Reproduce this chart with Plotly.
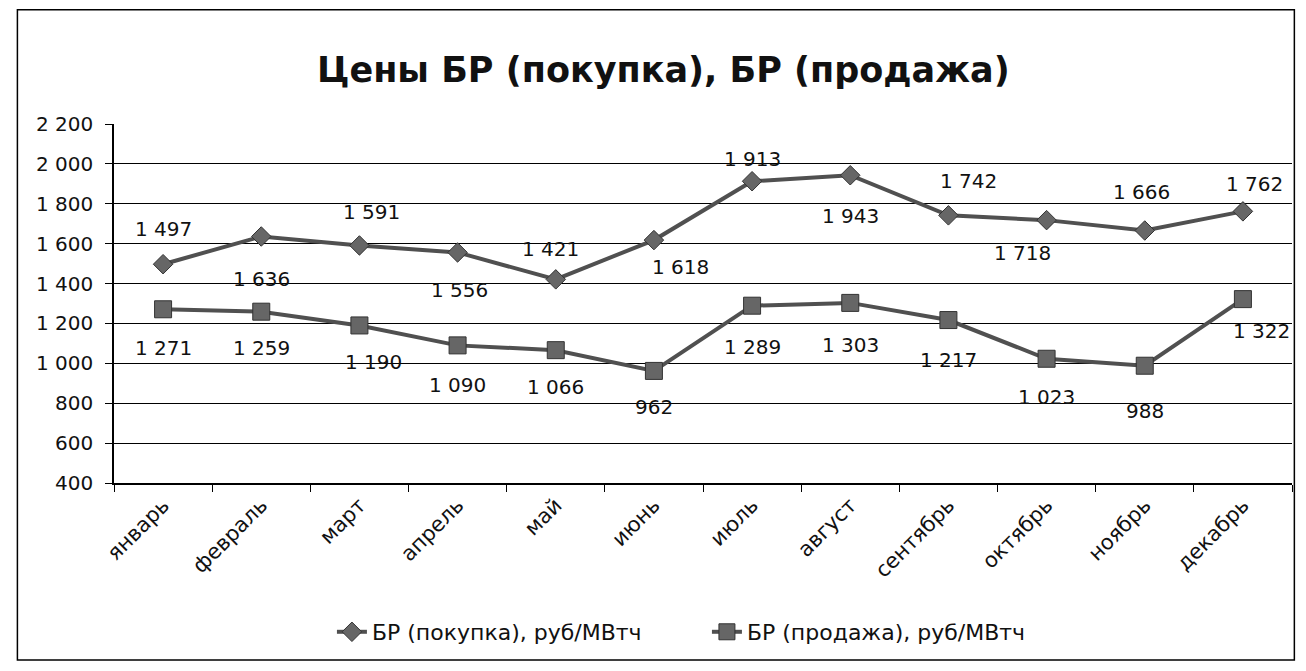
import plotly.graph_objects as go

months = ["январь", "февраль", "март", "апрель", "май", "июнь", "июль",
          "август", "сентябрь", "октябрь", "ноябрь", "декабрь"]
buy = [1497, 1636, 1591, 1556, 1421, 1618, 1913, 1943, 1742, 1718, 1666, 1762]
sell = [1271, 1259, 1190, 1090, 1066, 962, 1289, 1303, 1217, 1023, 988, 1322]
y_ticks = [400, 600, 800, 1000, 1200, 1400, 1600, 1800, 2000, 2200]

# label offsets (pixels) relative to each point, as in the reference
buy_dx = [0, 0, 12, 2, -5, 27, 0, 0, 20, -24, -3, 12]
buy_dy = [-35, 43, -33, 38, -30, 27, -22, 41, -34, 33, -39, -27]
sell_dx = [0, 0, 14, 0, 0, 0, 0, 0, 0, 0, 0, 19]
sell_dy = [39, 36, 37, 40, 37, 36, 41, 42, 40, 38, 45, 32]

FONT = "DejaVu Sans"
LINE = "#505050"

fig = go.Figure()
fig.add_trace(go.Scatter(
    x=months, y=buy, name="БР (покупка), руб/МВтч",
    mode="lines+markers",
    line=dict(color=LINE, width=4),
    marker=dict(symbol="diamond", size=15, color="#666666", line=dict(color="#333", width=1)),
))
fig.add_trace(go.Scatter(
    x=months, y=sell, name="БР (продажа), руб/МВтч",
    mode="lines+markers",
    line=dict(color=LINE, width=4),
    marker=dict(symbol="square", size=17, color="#666666", line=dict(color="#333", width=1)),
))

def fmt(v):
    return f"{v:,}".replace(",", " ")

annotations = []
for m, v, dx, dy in zip(months, buy, buy_dx, buy_dy):
    annotations.append(dict(x=m, y=v, xref="x", yref="y", text=fmt(v), showarrow=False,
                            xshift=dx, yshift=-dy, font=dict(size=20, family=FONT, color="#111")))
for m, v, dx, dy in zip(months, sell, sell_dx, sell_dy):
    annotations.append(dict(x=m, y=v, xref="x", yref="y", text=fmt(v), showarrow=False,
                            xshift=dx, yshift=-dy, font=dict(size=20, family=FONT, color="#111")))

fig.update_layout(
    width=1290, height=655,
    paper_bgcolor="white", plot_bgcolor="white",
    separators=", ",
    font=dict(family=FONT, color="#111", size=20),
    title=dict(text="<b>Цены БР (покупка), БР (продажа)</b>", x=0.508, xanchor="center",
               y=0.905, yanchor="middle", font=dict(size=35, family=FONT, color="#111")),
    margin=dict(l=106, r=6, t=116, b=180),
    showlegend=True,
    legend=dict(orientation="h", x=0.185, xanchor="left", y=-0.415, yanchor="middle",
                font=dict(size=22, family=FONT), entrywidth=330, entrywidthmode="pixels"),
    xaxis=dict(
        type="category", range=[-0.5, 11.5], showgrid=False, showline=True,
        linecolor="black", linewidth=1.5,
        ticks="outside", tickson="boundaries", ticklen=7, tickcolor="black",
        tickangle=-45, tickfont=dict(size=21, family=FONT),
    ),
    yaxis=dict(
        range=[400, 2200], tickvals=y_ticks, tickformat=",d",
        showgrid=True, gridcolor="black", gridwidth=1,
        showline=True, linecolor="black", linewidth=1.5,
        ticks="outside", ticklen=7, tickcolor="black", ticklabelstandoff=8,
        tickfont=dict(size=20, family=FONT), zeroline=False,
    ),
    annotations=annotations,
    shapes=[dict(type="rect", xref="paper", yref="paper",
                 x0=-0.082, x1=1.002, y0=-0.493, y1=1.318,
                 line=dict(color="black", width=1.5), fillcolor="rgba(0,0,0,0)", layer="below")],
)

fig.write_html("out.html")
